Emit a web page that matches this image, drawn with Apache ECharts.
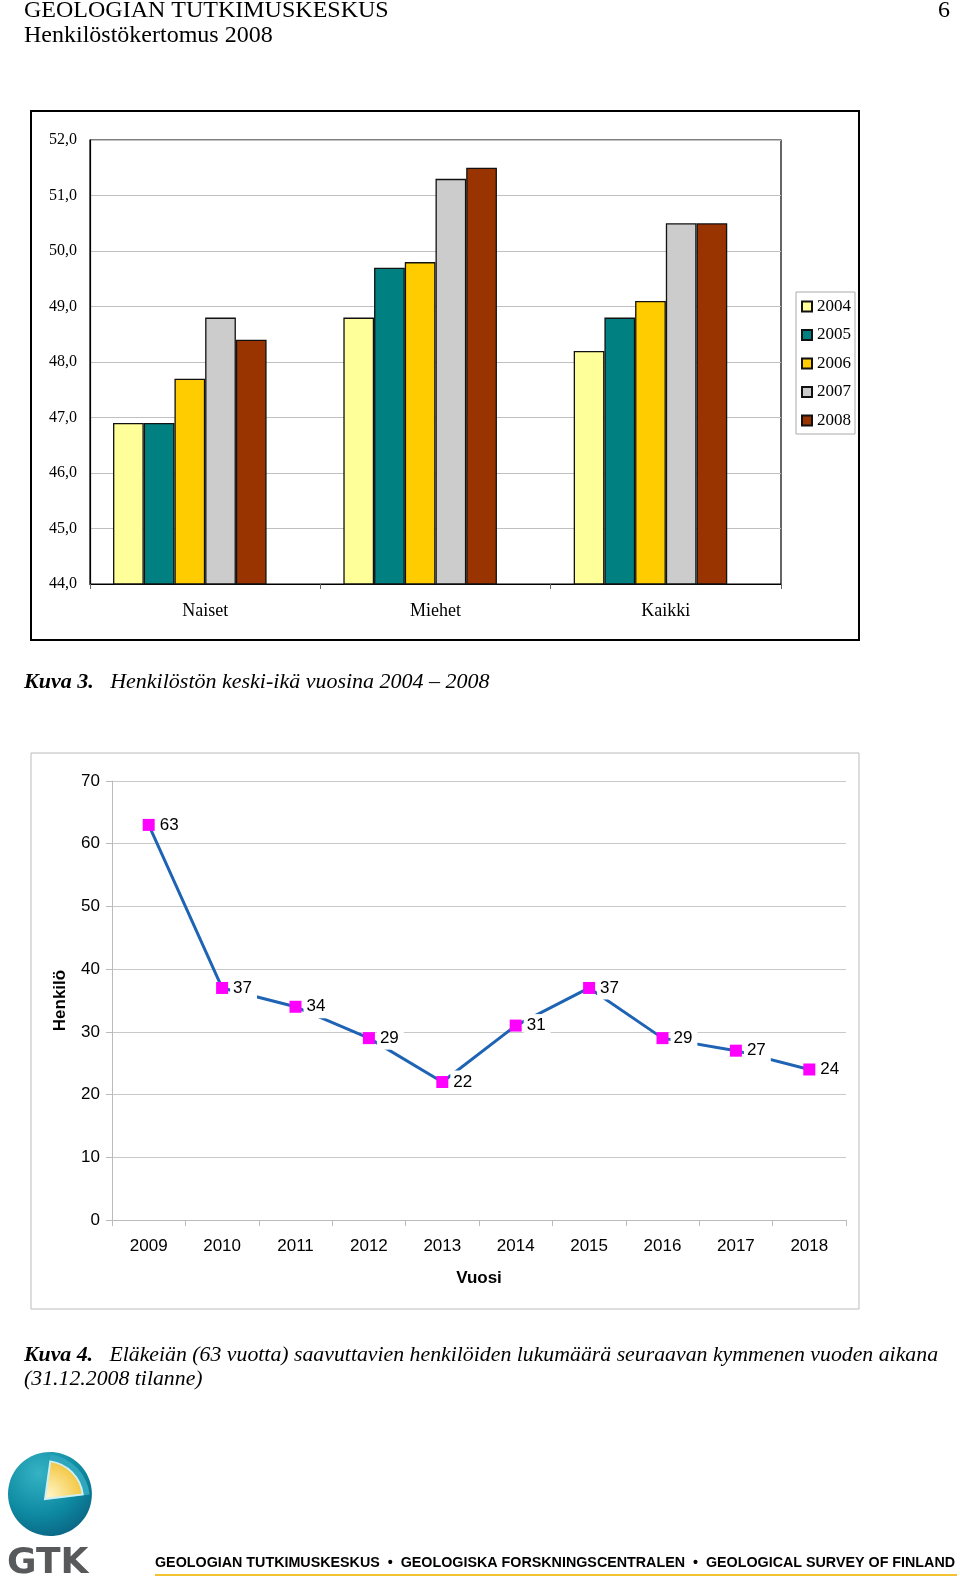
<!DOCTYPE html>
<html><head><meta charset="utf-8">
<script src="https://cdn.jsdelivr.net/npm/echarts/dist/echarts.min.js"></script>
<style>html,body{margin:0;padding:0;background:#fff}#c{width:960px;height:1579px}</style>
</head><body><div id="c"></div><script>
// ---- Data: Kuva 3 (keski-ikä) ----
const barCategories = ['Naiset', 'Miehet', 'Kaikki'];
const barYears = ['2004', '2005', '2006', '2007', '2008'];
const age2004 = [46.9, 48.8, 48.2];
const age2005 = [46.9, 49.7, 48.8];
const age2006 = [47.7, 49.8, 49.1];
const age2007 = [48.8, 51.3, 50.5];
const age2008 = [48.4, 51.5, 50.5];
const barColors = ['#FFFF99', '#008080', '#FFCC00', '#CCCCCC', '#993300'];
// ---- Data: Kuva 4 (eläkkeelle siirtyvät) ----
const lineYears = ['2009', '2010', '2011', '2012', '2013', '2014', '2015', '2016', '2017', '2018'];
const retirees = [63, 37, 34, 29, 22, 31, 37, 29, 27, 24];

const serif = 'Liberation Serif';
const sans = 'Liberation Sans';
const ageSeries = [age2004, age2005, age2006, age2007, age2008];

const chart = echarts.init(document.getElementById('c'), null, {renderer: 'canvas'});

const barSeries = barYears.map((y, i) => ({
  name: y, type: 'bar', xAxisIndex: 0, yAxisIndex: 0,
  data: ageSeries[i],
  barGap: '0%', barCategoryGap: '20%',
  itemStyle: {color: barColors[i], borderColor: '#111', borderWidth: 1.3},
  emphasis: {disabled: true}
}));
// empty slot after the five years (as in the original chart, bars sit left of centre)
barSeries.push({name: '_empty', type: 'bar', xAxisIndex: 0, yAxisIndex: 0,
  data: barCategories.map(() => null), barGap: '0%', barCategoryGap: '20%'});

const option = {
  animation: false,
  textStyle: {fontFamily: serif},
  legend: {
    data: barYears, orient: 'vertical', left: 796, top: 292,
    itemWidth: 10, itemHeight: 10, itemGap: 11.5,
    padding: [6, 4, 5, 5],
    borderColor: '#aaa', borderWidth: 1,
    textStyle: {fontFamily: serif, fontSize: 17, color: '#000', padding: [0, 0, 0, 0]},
    icon: 'rect'
  },
  grid: [
    {left: 90, right: 179, top: 140, bottom: 995, show: true, borderColor: '#000', borderWidth: 1.2, outerBoundsMode: 'none'},
    {left: 112, right: 114, top: 781, bottom: 359, outerBoundsMode: 'none'}
  ],
  xAxis: [
    {type: 'category', gridIndex: 0, data: barCategories,
     axisLine: {lineStyle: {color: '#000', width: 1.2}},
     axisTick: {show: true, length: 5, lineStyle: {color: '#666'}},
     axisLabel: {fontFamily: serif, fontSize: 18, color: '#000', margin: 18}},
    {type: 'category', gridIndex: 1, data: lineYears,
     axisLine: {lineStyle: {color: '#bbb', width: 1}},
     axisTick: {show: true, length: 6, lineStyle: {color: '#bbb'}},
     axisLabel: {fontFamily: sans, fontSize: 17, color: '#000', margin: 18},
     name: 'Vuosi', nameLocation: 'middle', nameGap: 50,
     nameTextStyle: {fontFamily: sans, fontSize: 17, fontWeight: 'bold', color: '#000'}}
  ],
  yAxis: [
    {type: 'value', gridIndex: 0, min: 44, max: 52, interval: 1,
     axisLine: {show: true, lineStyle: {color: '#000', width: 1.2}},
     axisTick: {show: false},
     splitLine: {lineStyle: {color: '#c0c0c0', width: 1.2}},
     axisLabel: {fontFamily: serif, fontSize: 16, color: '#000', margin: 13,
       formatter: v => v.toFixed(1).replace('.', ',')}},
    {type: 'value', gridIndex: 1, min: 0, max: 70, interval: 10,
     axisLine: {show: true, lineStyle: {color: '#bbb', width: 1}},
     axisTick: {show: true, length: 6, lineStyle: {color: '#bbb'}},
     splitLine: {lineStyle: {color: '#c8c8c8', width: 1}},
     axisLabel: {fontFamily: sans, fontSize: 17, color: '#000', margin: 12},
     name: 'Henkilö', nameLocation: 'middle', nameGap: 43, nameRotate: 90,
     nameTextStyle: {fontFamily: sans, fontSize: 17, fontWeight: 'bold', color: '#000'}}
  ],
  series: barSeries.concat([{
    name: 'Henkilöt', type: 'line', xAxisIndex: 1, yAxisIndex: 1,
    data: retirees,
    symbol: 'rect', symbolSize: 12,
    itemStyle: {color: '#FF00FF'},
    lineStyle: {color: '#1F64B4', width: 3},
    label: {show: true, position: 'right', distance: 2, fontFamily: sans, fontSize: 17, color: '#000',
      backgroundColor: '#fff', padding: [3, 5, 3, 3]},
    emphasis: {disabled: true}, z: 3
  }]),
  graphic: [
    {type: 'text', left: 24, top: -1, style: {text: 'GEOLOGIAN TUTKIMUSKESKUS', font: '24px "Liberation Serif"', fill: '#000'}},
    {type: 'text', left: 24, top: 24, style: {text: 'Henkilöstökertomus 2008', font: '24px "Liberation Serif"', fill: '#000'}},
    {type: 'text', right: 10, top: -1, style: {text: '6', font: '24px "Liberation Serif"', fill: '#000'}},
    {type: 'rect', shape: {x: 31, y: 111, width: 828, height: 529}, style: {fill: 'none', stroke: '#000', lineWidth: 2}, silent: true},
    {type: 'text', left: 24, top: 671, style: {
      text: '{b|Kuva 3.}   Henkilöstön keski-ikä vuosina 2004 – 2008',
      font: 'italic 22px "Liberation Serif"', fill: '#000',
      rich: {b: {font: 'italic bold 22px "Liberation Serif"', fill: '#000'}}}},
    {type: 'rect', shape: {x: 31, y: 753, width: 828, height: 556}, style: {fill: 'none', stroke: '#bbb', lineWidth: 1}, silent: true},
    {type: 'text', left: 24, top: 1343, style: {
      text: '{b|Kuva 4.}   Eläkeiän (63 vuotta) saavuttavien henkilöiden lukumäärä seuraavan kymmenen vuoden aikana\n(31.12.2008 tilanne)',
      font: 'italic 21.8px "Liberation Serif"', fill: '#000', lineHeight: 24,
      rich: {b: {font: 'italic bold 21.8px "Liberation Serif"', fill: '#000', lineHeight: 24}}}},
    // logo
    {type: 'ellipse', shape: {cx: 50, cy: 1494, rx: 42, ry: 42}, rotation: -0.3, originX: 50, originY: 1494,
     style: {fill: new echarts.graphic.RadialGradient(0.3, 0.3, 0.9, [{offset: 0, color: '#35B3C4'}, {offset: 0.55, color: '#0E8AA2'}, {offset: 1, color: '#0A5A7A'}])}, silent: true},
    {type: 'sector', shape: {cx: 44, cy: 1500, r0: 0, r: 46, startAngle: -1.43, endAngle: -0.12},
     style: {fill: '#2FA6BC'}, silent: true},
    {type: 'sector', shape: {cx: 45, cy: 1499, r0: 0, r: 38, startAngle: -1.43, endAngle: -0.12},
     style: {fill: new echarts.graphic.RadialGradient(0.1, 0.9, 1, [{offset: 0, color: '#FFF6C8'}, {offset: 1, color: '#F2C02E'}]), stroke: '#CDEFF5', lineWidth: 2}, silent: true},
    {type: 'text', left: 7, top: 1546, style: {text: 'GTK', font: 'bold 36px "DejaVu Sans"', fill: '#58595B'}},
    {type: 'text', left: 155, top: 1556, style: {text: 'GEOLOGIAN TUTKIMUSKESKUS  •  GEOLOGISKA FORSKNINGSCENTRALEN  •  GEOLOGICAL SURVEY OF FINLAND', font: 'bold 14.3px "Liberation Sans"', fill: '#000'}},
    {type: 'rect', shape: {x: 155, y: 1574, width: 802, height: 2}, style: {fill: '#F2C230'}, silent: true}
  ]
};
chart.setOption(option);
</script></body></html>
